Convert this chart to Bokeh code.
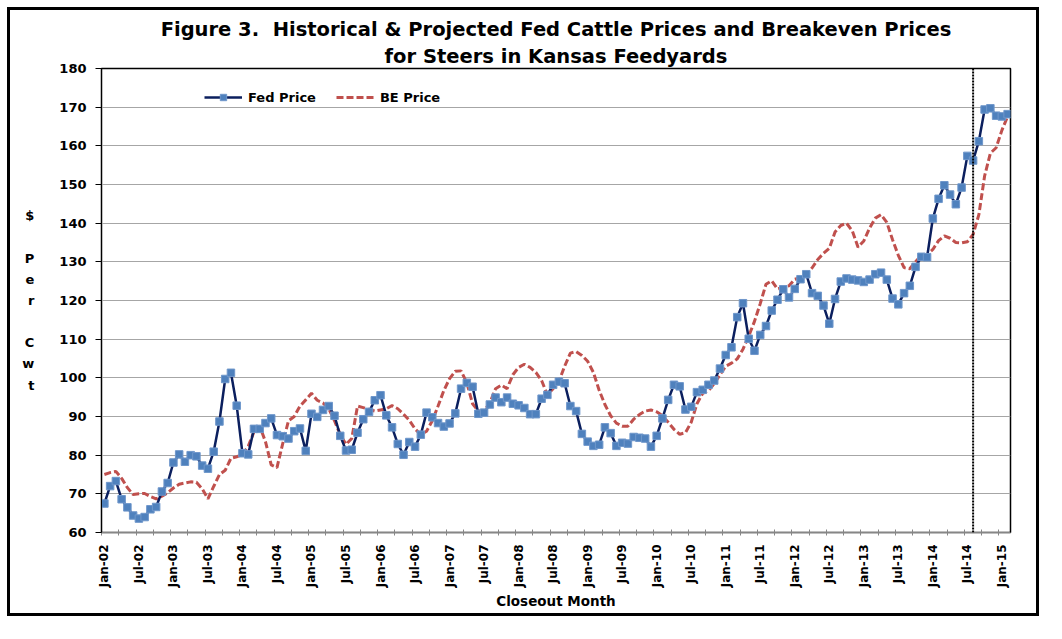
import math
from bokeh.plotting import figure
from bokeh.models import FixedTicker, Range1d, Span, Legend, LegendItem, Title
from bokeh.embed import file_html
from bokeh.resources import INLINE

# ---------------- data (monthly, Jan-02 .. Feb-15) ----------------
fed_price = [
    67.5, 72.0, 73.3, 68.6, 66.5, 64.4, 63.6, 64.0, 66.0, 66.6, 70.6, 72.8,      # 2002
    78.1, 80.2, 78.3, 80.0, 79.7, 77.3, 76.5, 80.9, 88.7, 99.7, 101.3, 92.8,     # 2003
    80.5, 80.2, 86.8, 86.8, 88.3, 89.5, 85.2, 84.9, 84.3, 86.2, 86.9, 81.1,      # 2004
    90.7, 89.9, 91.7, 92.7, 90.2, 85.0, 81.2, 81.4, 85.8, 89.3, 91.2, 94.2,      # 2005
    95.5, 90.3, 87.2, 82.9, 80.1, 83.4, 82.2, 85.3, 91.0, 89.8, 88.3, 87.4,      # 2006
    88.2, 90.8, 97.2, 98.7, 97.7, 90.7, 91.0, 93.1, 94.9, 93.7, 94.9, 93.3,      # 2007
    92.9, 92.2, 90.6, 90.6, 94.6, 95.6, 98.2, 99.0, 98.6, 92.7, 91.4, 85.5,      # 2008
    83.5, 82.4, 82.7, 87.2, 85.7, 82.4, 83.2, 83.0, 84.7, 84.5, 84.3, 82.2,      # 2009
    85.0, 89.5, 94.3, 98.2, 97.8, 91.8, 92.5, 96.3, 96.9, 98.2, 99.3, 102.4,     # 2010
    105.9, 107.9, 115.7, 119.3, 110.1, 107.0, 111.1, 113.4, 117.4, 120.2, 122.9, 120.8,  # 2011
    123.0, 125.5, 126.8, 121.9, 121.2, 118.7, 114.0, 120.4, 124.9, 125.7, 125.4, 125.2,  # 2012
    124.8, 125.4, 126.8, 127.2, 125.4, 120.5, 119.0, 121.9, 123.8, 128.7, 131.3, 131.2,  # 2013
    141.2, 146.3, 149.8, 147.4, 144.9, 149.2, 157.4, 156.2, 161.2, 169.4, 169.7, 167.8,  # 2014
    167.6, 168.2,                                                                  # 2015
]

be_price = [
    75.0, 75.5, 75.8, 74.0, 71.6, 69.8, 70.0, 70.1, 69.3, 68.7, 69.4, 70.3,      # 2002
    71.5, 72.5, 72.8, 73.1, 73.0, 71.3, 68.7, 71.9, 75.0, 76.1, 79.2, 79.6,      # 2003
    80.1, 82.3, 86.0, 87.5, 83.5, 77.5, 76.8, 83.0, 88.9, 90.0, 92.7, 94.3,      # 2004
    96.0, 94.2, 93.5, 92.0, 88.9, 85.3, 82.8, 84.3, 92.7, 92.3, 91.8, 91.4,      # 2005
    91.7, 92.0, 92.8, 92.0, 90.6, 89.0, 86.8, 85.3, 86.2, 88.9, 92.7, 96.7,      # 2006
    99.8, 101.7, 101.8, 98.7, 93.3, 91.4, 91.4, 93.5, 97.2, 98.1, 97.2, 100.8,   # 2007
    102.7, 103.5, 102.7, 101.4, 99.3, 95.6, 97.2, 99.0, 103.0, 106.4, 106.8, 105.8,  # 2008
    104.3, 101.4, 96.8, 93.1, 90.2, 88.3, 87.5, 87.5, 89.3, 90.5, 91.4, 91.7,    # 2009
    91.2, 90.2, 88.5, 86.7, 85.4, 85.8, 88.5, 93.3, 96.0, 96.7, 98.5, 100.8,     # 2010
    103.0, 103.8, 104.9, 107.4, 110.8, 114.6, 119.2, 124.2, 125.1, 123.0, 123.4, 123.8,  # 2011
    125.5, 125.9, 126.8, 128.4, 130.6, 132.2, 133.5, 137.7, 139.4, 140.0, 138.0, 133.8,  # 2012
    135.4, 138.7, 141.3, 142.2, 140.2, 135.7, 131.7, 128.5, 128.2, 130.0, 131.7, 131.9,  # 2013
    133.2, 135.5, 136.7, 136.1, 135.0, 134.9, 135.2, 137.1, 142.2, 152.2, 158.1, 159.5,  # 2014
    164.0, 167.6,                                                                  # 2015
]

tick_labels = [
    "Jan-02", "Jul-02", "Jan-03", "Jul-03", "Jan-04", "Jul-04", "Jan-05", "Jul-05",
    "Jan-06", "Jul-06", "Jan-07", "Jul-07", "Jan-08", "Jul-08", "Jan-09", "Jul-09",
    "Jan-10", "Jul-10", "Jan-11", "Jul-11", "Jan-12", "Jul-12", "Jan-13", "Jul-13",
    "Jan-14", "Jul-14", "Jan-15",
]
y_ticks = [60, 70, 80, 90, 100, 110, 120, 130, 140, 150, 160, 170, 180]
projection_start = 151   # month index where the dotted divider sits

month_index = list(range(len(fed_price)))
n = len(month_index)
label_pos = [6 * i for i in range(len(tick_labels))]
minor_pos = [-0.5 + 3 * k for k in range(60) if -0.5 + 3 * k < n - 0.5]

FONT = "DejaVu Sans"
W, H = 1046, 623
ML, MR, MT, MB = 101, 36, 68, 91
FRAME_H = H - MT - MB

p = figure(width=W, height=H, output_backend="svg", toolbar_location=None,
           title=None,
           x_range=Range1d(-0.5, n - 0.5), y_range=Range1d(60, 180),
           min_border_left=ML, min_border_right=MR, min_border_top=MT, min_border_bottom=MB)
# thick black frame around the whole chart (painted on the element, canvas margin is transparent)
p.styles = {"box-shadow": "inset 0 0 0 7px white, inset 0 0 0 10px black"}
p.background_fill_color = "white"
p.border_fill_color = None
p.outline_line_color = "black"
p.outline_line_width = 1.5

# x axis
p.xaxis.ticker = FixedTicker(ticks=label_pos, minor_ticks=minor_pos)
p.xaxis.major_label_overrides = {pos: lab for pos, lab in zip(label_pos, tick_labels)}
p.xaxis.major_label_orientation = math.pi / 2
p.xaxis.major_tick_in = 0
p.xaxis.major_tick_out = 0
p.xaxis.minor_tick_in = 3
p.xaxis.minor_tick_out = 3
p.xaxis.minor_tick_line_color = "#868686"
p.xaxis.axis_line_color = "#868686"
p.xaxis.major_label_standoff = 9
p.xaxis.major_label_text_font = FONT
p.xaxis.major_label_text_font_size = "12px"
p.xaxis.major_label_text_font_style = "bold"
p.xaxis.major_label_text_color = "black"
p.xaxis.axis_label = "Closeout Month"
p.xaxis.axis_label_text_font = FONT
p.xaxis.axis_label_text_font_size = "13.5px"
p.xaxis.axis_label_text_font_style = "bold"
p.xaxis.axis_label_text_color = "black"
p.xaxis.axis_label_standoff = 3

# y axis
yax = p.yaxis[0]
yax.ticker = FixedTicker(ticks=y_ticks)
yax.major_tick_in = 0
yax.major_tick_out = 6
yax.major_tick_line_color = "black"
yax.axis_line_color = "black"
yax.major_label_standoff = 9
yax.major_label_text_font = FONT
yax.major_label_text_font_size = "13px"
yax.major_label_text_font_style = "bold"
yax.major_label_text_color = "black"
yprops = yax.properties()
if "axis_label_orientation" in yprops:
    # stacked, upright letters as in the original
    yax.axis_label = "$\n\nP\ne\nr\n\nC\nw\nt"
    yax.axis_label_orientation = "horizontal"
    if "axis_label_text_line_height" in yprops:
        yax.axis_label_text_line_height = 1.41
else:
    yax.axis_label = "$ Per Cwt"
yax.axis_label_text_font = FONT
yax.axis_label_text_font_size = "13px"
yax.axis_label_text_font_style = "bold"
yax.axis_label_text_color = "black"
yax.axis_label_standoff = 22

p.xgrid.visible = False
p.ygrid.grid_line_color = "#A6A6A6"
p.ygrid.grid_line_width = 1

# series
be_line = p.line(month_index, be_price, line_color="#C0504D", line_width=3, line_dash="7 3")
fed_line = p.line(month_index, fed_price, line_color="#0B1F5E", line_width=2.5)
fed_pts = p.scatter(month_index, fed_price, marker="square", size=7.5,
                    fill_color="#4F81BD", line_color="#6F97CB", line_width=1)

p.add_layout(Span(location=projection_start, dimension="height", line_color="black",
                  line_width=2, line_dash="2 1"))

legend = Legend(items=[LegendItem(label="Fed Price", renderers=[fed_line, fed_pts]),
                       LegendItem(label="BE Price", renderers=[be_line])],
                orientation="horizontal", location=(103, FRAME_H - 37),
                background_fill_alpha=0, border_line_alpha=0,
                glyph_width=38, glyph_height=16, label_standoff=6, spacing=20,
                padding=0, margin=0,
                label_text_font=FONT, label_text_font_size="13px",
                label_text_font_style="bold", label_text_color="black")
p.add_layout(legend)

t2 = Title(text="for Steers in Kansas Feedyards", align="center", text_font=FONT,
           text_font_size="19.5px", text_font_style="bold", text_color="black", standoff=2)
p.add_layout(t2, "above")
t1 = Title(text="Figure 3.\u00a0 Historical & Projected Fed Cattle Prices and Breakeven Prices",
           align="center", text_font=FONT, text_font_size="19.5px", text_font_style="bold",
           text_color="black", standoff=2)
p.add_layout(t1, "above")

open("out.html", "w").write(file_html(p, INLINE))
